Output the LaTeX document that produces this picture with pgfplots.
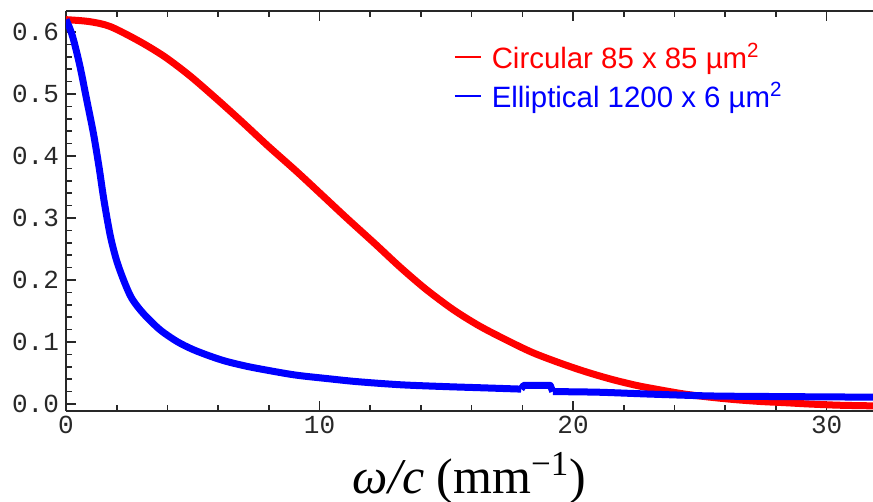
\documentclass[border=0pt]{standalone}
\usepackage{fontspec}
\setmainfont{Liberation Serif}
\newfontfamily\legfont{Liberation Sans}
\newfontfamily\tickfont{Liberation Mono}
\usepackage{pgfplots}
\pgfplotsset{compat=1.18}
\definecolor{framegray}{RGB}{40,40,40}
\definecolor{pred}{RGB}{255,0,0}
\definecolor{pblue}{RGB}{0,0,255}
\begin{document}
\begin{tikzpicture}
\begin{axis}[
  at={(0,0)}, anchor=south west,
  scale only axis, width=403.5pt, height=200pt,
  xmin=0, xmax=31.83, ymin=-0.0113, ymax=0.634,
  axis x line*=box, axis y line*=left,
  xtick={0,10,20,30}, minor x tick num=4,
  ytick={0,0.1,0.2,0.3,0.4,0.5,0.6},
  yticklabels={0.0,0.1,0.2,0.3,0.4,0.5,0.6},
  minor y tick num=4,
  tick align=inside, ticks=both,
  major tick length=5pt, minor tick length=3pt,
  every tick/.style={framegray, line width=0.8pt},
  axis line style={framegray, line width=1pt, -},
  /pgf/number format/assume math mode=true,
  tick label style={font=\tickfont\fontsize{13}{13}\selectfont, text=framegray},
  xticklabel style={yshift=1pt},
  xlabel={\fontsize{25}{25}\selectfont\textit{ω/c} (mm\textsuperscript{−1})},
  xlabel style={at={(axis description cs:0.5,-0.1675)}, anchor=center, inner sep=0pt},
  legend cell align=left,
  legend style={draw=none, fill=none, at={(axis description cs:0.48,0.93)}, anchor=north west,
    font=\legfont\fontsize{14.7}{17.5}\selectfont, row sep=1.5pt, inner sep=0pt,
    /tikz/every odd column/.append style={column sep=3pt}},
  legend image code/.code={\draw[#1, line width=1pt] (0pt,0pt) -- (13pt,0pt);},
]
\addplot[color=pred, line width=3.5pt, line join=round, smooth] coordinates {
(0,0.620) (0.9,0.617) (1.74,0.609) (2.9,0.585) (3.9,0.560) (4.9,0.529) (6.0,0.490)
(7.0,0.453) (8.0,0.415) (9.1,0.375) (10.1,0.337) (11.07,0.300) (12.2,0.258)
(13.2,0.220) (14.2,0.185) (15.28,0.152) (16.3,0.126) (17.38,0.103) (18.4,0.083)
(19.49,0.066) (20.5,0.052) (21.5,0.040) (22.5,0.030) (23.4,0.023) (24.4,0.016)
(25.4,0.011) (26.4,0.007) (27.4,0.004) (28.4,0.002) (29.3,0.000)
(30.5,-0.002) (31.83,-0.003)
};
\addlegendentry{\textcolor{pred}{Circular 85 x 85 µm\textsuperscript{2}}}
\addplot[color=pblue, line width=3.5pt, line join=round, smooth, tension=0.5] coordinates {
(0,0.620) (0.15,0.606) (0.3,0.587) (0.55,0.545) (0.82,0.490) (1.08,0.437)
(1.3,0.383) (1.5,0.328) (1.75,0.271) (2.0,0.231) (2.3,0.197) (2.6,0.170)
(3.05,0.146) (3.7,0.120) (4.37,0.101) (5.0,0.088) (5.7,0.077) (6.3,0.069)
(7.0,0.062) (7.6,0.057) (9.0,0.047) (10.3,0.041) (11.5,0.036) (13.2,0.031)
(15.0,0.028) (16.5,0.026) (17.95,0.024)
};
\addlegendentry{\textcolor{pblue}{Elliptical 1200 x 6 µm\textsuperscript{2}}}
\addplot[color=pblue, line width=3.5pt, line join=round, forget plot] coordinates {
(17.95,0.024) (18.05,0.030) (19.1,0.030) (19.2,0.020)
};
\addplot[color=pblue, line width=3.5pt, line join=round, smooth, forget plot] coordinates {
(19.2,0.020) (21.0,0.019) (23.0,0.016) (25.4,0.013) (28.0,0.012) (31.83,0.011)
};
\end{axis}
\pgfresetboundingbox
\path[use as bounding box] (-33pt,-45.5pt) rectangle (403.5pt,205.5pt);
\end{tikzpicture}
\end{document}
